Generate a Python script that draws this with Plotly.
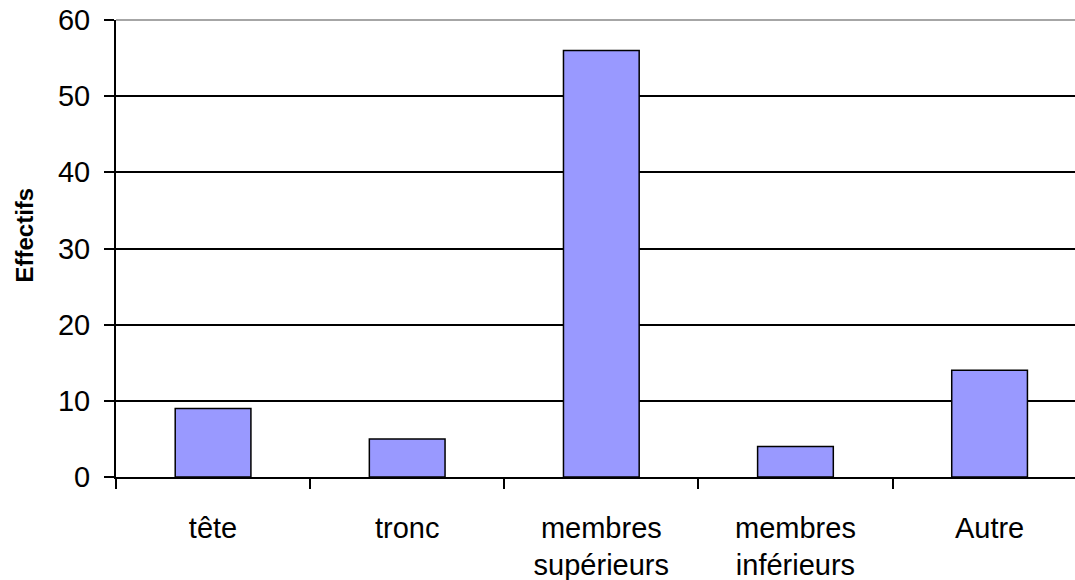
import plotly.graph_objects as go

categories = ["tête", "tronc", "membres<br>supérieurs", "membres<br>inférieurs", "Autre"]
values = [9, 5, 56, 4, 14]
y_ticks = [0, 10, 20, 30, 40, 50, 60]

fig = go.Figure(go.Bar(
    x=list(range(len(categories))), y=values,
    marker=dict(color="#9999FF", line=dict(color="black", width=1.5)),
    width=0.39,
))

fig.update_layout(
    width=1075, height=580,
    margin=dict(l=116, r=0, t=20, b=103),
    paper_bgcolor="white", plot_bgcolor="white",
    font=dict(family="Liberation Sans, Arial", size=29, color="black"),
    showlegend=False,
    shapes=[dict(type="line", xref="paper", yref="paper", x0=0, x1=1, y0=1, y1=1,
                 line=dict(color="#888888", width=1.5), layer="below")],
    annotations=[dict(text="<b>Effectifs</b>", xref="paper", yref="paper",
                      x=0, y=0.5, xanchor="center", yanchor="middle",
                      xshift=-92, yshift=13, textangle=-90, showarrow=False,
                      font=dict(size=24))],
)
fig.update_xaxes(
    range=[-0.5, 4.44], automargin=False,
    tickmode="array", tickvals=list(range(len(categories))), ticktext=categories,
    ticks="", showgrid=False, showline=True, linecolor="black", linewidth=1.5,
    zeroline=False, ticklabelstandoff=24, ticklabeloverflow="allow",
    minor=dict(tickmode="array", tickvals=[-0.5, 0.5, 1.5, 2.5, 3.5], ticks="outside",
               ticklen=10, tickcolor="black", tickwidth=1.5, showgrid=False),
)
fig.update_yaxes(
    range=[0, 60], tickmode="array", tickvals=y_ticks, automargin=False,
    ticks="outside", ticklen=10, tickcolor="black", tickwidth=1.5,
    showline=True, linecolor="black", linewidth=2,
    showgrid=True, gridcolor="black", gridwidth=1.5, zeroline=False,
    ticklabelstandoff=8, ticklabeloverflow="allow",
)
fig.write_html("out.html", config={"displayModeBar": False},
               post_script="document.body.style.margin='0';")
